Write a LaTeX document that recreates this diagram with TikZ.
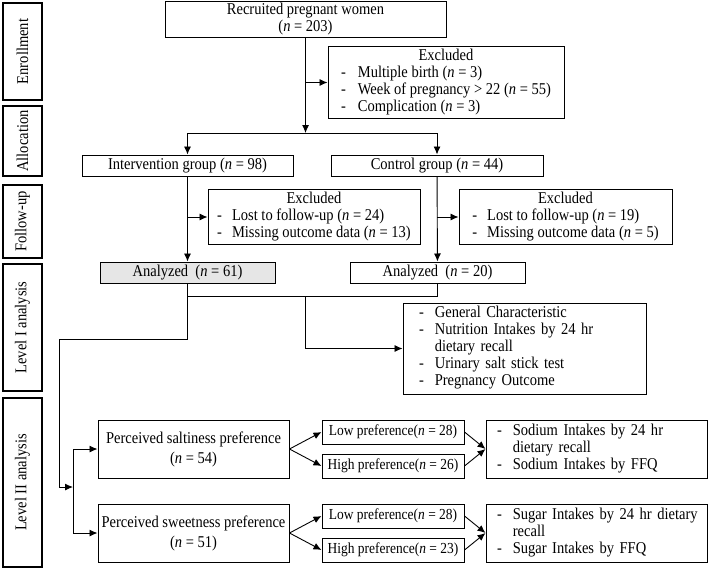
\documentclass[tikz,border=0pt]{standalone}
\usepackage{fontspec}
\setmainfont[FakeStretch=0.88]{Liberation Serif}
\usepackage{tikz}
\usetikzlibrary{arrows.meta}

\definecolor{boxgray}{HTML}{E6E6E6}
\newcommand{\ncnt}[1]{(\textit{n} = #1)}

\begin{document}
\begin{tikzpicture}[x=1pt, y=-1pt, >={Latex[length=8pt,width=7pt]},
  every node/.style={font=\fontsize{16.5}{17}\selectfont},
  box/.style={draw, line width=1pt, inner sep=2pt, align=center},
  side/.style={draw, line width=2.2pt, rotate=90, minimum height=39pt, inner sep=1pt},
  flow/.style={line width=0.9pt},
  pref/.style={box, minimum width=142pt, minimum height=24pt, font=\fontsize{15.3}{16}\selectfont}]
\useasboundingbox[fill=white] (0,0) rectangle (709,570);

% stage labels on the left
\node[side, minimum width=97pt] (enroll) at (22.5,51.5) {Enrollment};
\node[side, minimum width=70pt] (alloc) at (22.5,141) {Allocation};
\node[side, minimum width=73pt] (follow) at (22.5,221.5) {Follow-up};
\node[side, minimum width=127pt] (lvonelab) at (22.5,327.5) {Level I analysis};
\node[side, minimum width=169pt] (lvtwolab) at (22.5,482.5) {Level II analysis};

% enrollment and allocation
\node[box, minimum width=281pt, minimum height=35pt] (recruit) at (305.5,19.5) {Recruited pregnant women\\ \ncnt{203}};
\node[box, minimum width=236pt, minimum height=69pt] (exclone) at (446,82.5) {\begin{tabular}{@{}l@{\hspace{12pt}}l@{}}
  \multicolumn{2}{c}{Excluded}\\
  - & Multiple birth \ncnt{3}\\
  - & Week of pregnancy > 22 \ncnt{55}\\
  - & Complication \ncnt{3}
\end{tabular}};
\node[box, minimum width=211pt, minimum height=21pt] (inter) at (187.5,165.5) {Intervention group \ncnt{98}};
\node[box, minimum width=212pt, minimum height=21pt] (control) at (437,165.5) {Control group \ncnt{44}};

% follow-up
\node[box, minimum width=212pt, minimum height=54pt] (excltwo) at (314,217) {\begin{tabular}{@{}l@{\hspace{10pt}}l@{}}
  \multicolumn{2}{c}{Excluded}\\
  - & Lost to follow-up \ncnt{24}\\
  - & Missing outcome data \ncnt{13}
\end{tabular}};
\node[box, minimum width=213pt, minimum height=54pt] (exclthree) at (565.5,217) {\begin{tabular}{@{}l@{\hspace{10pt}}l@{}}
  \multicolumn{2}{c}{Excluded}\\
  - & Lost to follow-up \ncnt{19}\\
  - & Missing outcome data \ncnt{5}
\end{tabular}};
\node[box, fill=boxgray, minimum width=175pt, minimum height=21pt] (anone) at (187.5,272.5) {Analyzed\ \ \ncnt{61}};
\node[box, minimum width=175pt, minimum height=21pt] (antwo) at (437.5,272.5) {Analyzed\ \ \ncnt{20}};

% level I
\node[box, minimum height=91pt, text width=239pt, align=left] (lvone) at (524.5,348.5) {\begin{tabular}{@{\hspace{14pt}}l@{\hspace{11pt}}l@{}}
  - & General Characteristic\\
  - & Nutrition Intakes by 24 hr\\
    & dietary recall\\
  - & Urinary salt stick test\\
  - & Pregnancy Outcome
\end{tabular}};

% level II
\node[box, minimum width=191pt, minimum height=58pt] (salt) at (193.5,449) {Perceived saltiness preference\\[3pt] \ncnt{54}};
\node[box, minimum width=191pt, minimum height=58pt] (sweet) at (193.5,533) {Perceived sweetness preference\\[3pt] \ncnt{51}};
\node[pref] (saltlow) at (393,432) {Low preference\ncnt{28}};
\node[pref] (salthigh) at (393,466) {High preference\ncnt{26}};
\node[pref] (sweetlow) at (393,516) {Low preference\ncnt{28}};
\node[pref] (sweethigh) at (393,550) {High preference\ncnt{23}};
\node[box, minimum width=221pt, minimum height=58pt, text width=213pt, align=left] (sodium) at (596.5,449) {\begin{tabular}{@{\hspace{7pt}}l@{\hspace{11pt}}l@{}}
  - & Sodium Intakes by 24 hr\\
    & dietary recall\\
  - & Sodium Intakes by FFQ
\end{tabular}};
\node[box, minimum width=221pt, minimum height=58pt, text width=213pt, align=left] (sugar) at (596.5,533) {\begin{tabular}{@{\hspace{7pt}}l@{\hspace{11pt}}l@{}}
  - & Sugar Intakes by 24 hr dietary\\
    & recall\\
  - & Sugar Intakes by FFQ
\end{tabular}};

% junction points
\coordinate (split) at (305.5,133);
\coordinate (joinone) at (187.5,296);
\coordinate (jointwo) at (437.5,296);
\coordinate (lvtwoin) at (73,487);

% connectors
\draw[flow, ->] (recruit) -- (split);
\draw[flow, ->] (recruit.south |- exclone.west) -- (exclone.west);
\draw[flow, ->] (split) -| (inter.north);
\draw[flow, ->] (split) -| (control.north);
\draw[flow, ->] (inter) -- (anone);
\draw[flow, ->] (inter.south |- excltwo.west) -- (excltwo.west);
\draw[flow, ->] (control) -- (antwo);
\draw[flow, ->] (control.south |- exclthree.west) -- (exclthree.west);
\draw[flow] (anone.south) -- (joinone) -- (jointwo) -- (antwo.south);
\draw[flow, ->] (recruit.south |- joinone) |- (lvone.west);
\draw[flow, ->] (joinone) -- (187.5,339) -| (59,487) -- (lvtwoin);
\draw[flow] (lvtwoin |- salt.west) -- (lvtwoin |- sweet.west);
\draw[flow, ->] (lvtwoin |- salt.west) -- (salt.west);
\draw[flow, ->] (lvtwoin |- sweet.west) -- (sweet.west);
\draw[flow, ->] (salt.east) -- (saltlow.west);
\draw[flow, ->] (salt.east) -- (salthigh.west);
\draw[flow, ->] (sweet.east) -- (sweetlow.west);
\draw[flow, ->] (sweet.east) -- (sweethigh.west);
\draw[flow, ->] (saltlow.east) -- (sodium.west);
\draw[flow, ->] (salthigh.east) -- (sodium.west);
\draw[flow, ->] (sweetlow.east) -- (sugar.west);
\draw[flow, ->] (sweethigh.east) -- (sugar.west);
\end{tikzpicture}
\end{document}
